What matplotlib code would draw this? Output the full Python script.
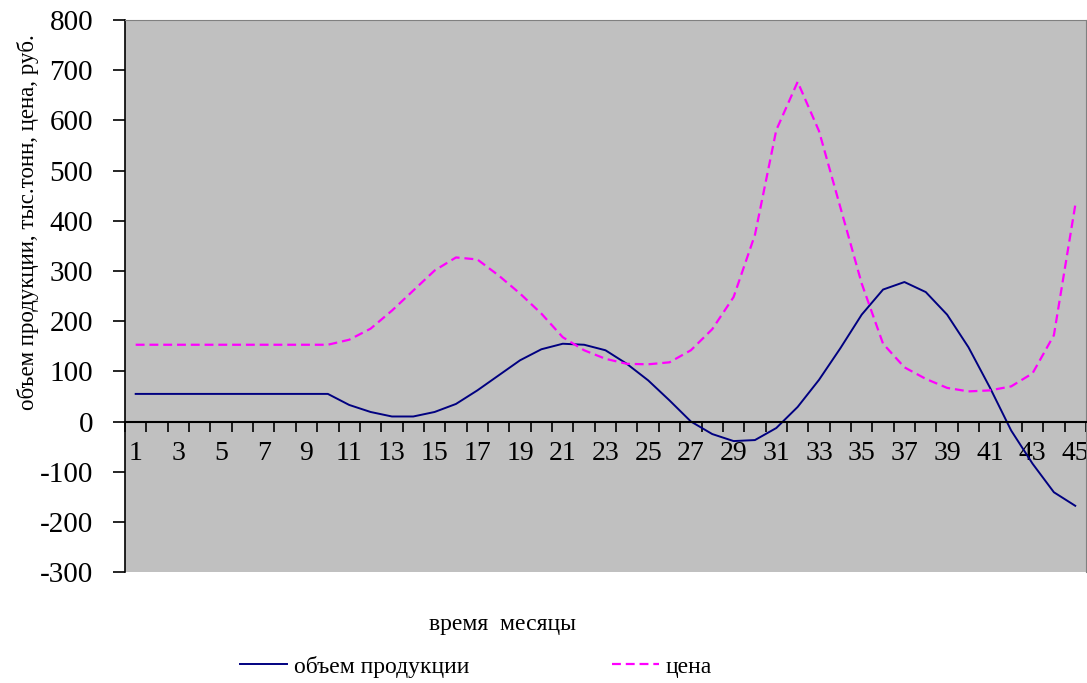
import numpy as np
import matplotlib
matplotlib.use("Agg")
import matplotlib.pyplot as plt

plt.rcParams['font.family'] = ['Liberation Serif', 'DejaVu Serif']
plt.rcParams['axes.unicode_minus'] = False

months = np.arange(1, 46)
volume = [55, 55, 55, 55, 55, 55, 55, 55, 55, 55,
          33, 19, 10, 10, 19, 35, 62, 92, 122, 144,
          155, 153, 142, 115, 82, 42, 0, -25, -39, -37,
          -13, 29, 83, 146, 213, 263, 278, 258, 213, 148,
          68, -18, -84, -141, -168]
price = [153, 153, 153, 153, 153, 153, 153, 153, 153, 153,
         163, 185, 221, 261, 301, 327, 323, 291, 255, 215,
         168, 142, 125, 115, 114, 118, 142, 184, 248, 372,
         581, 677, 579, 427, 275, 155, 108, 85, 67, 60,
         62, 70, 96, 172, 431]
tick_labels = [str(m) for m in months[::2]]

fig = plt.figure(figsize=(10.87, 6.83), dpi=100)
ax = fig.add_axes([0.115, 0.1625, 0.884, 0.808])
ax.set_facecolor('#C0C0C0')

ax.plot(months, volume, color='#000080', lw=1.4, label='объем продукции')
ax.plot(months, price, color='#FF00FF', lw=1.6, dashes=(4, 2.2), label='цена')

ax.set_xlim(0.5, 45.5)
ax.set_ylim(-300, 800)
ax.set_yticks(np.arange(-300, 801, 100))

# labels on odd months, tick marks between categories
ax.set_xticks(months[::2])
ax.set_xticklabels(tick_labels)
ax.set_xticks(np.arange(0.5, 46, 1), minor=True)
ax.tick_params(axis='x', which='major', length=0, pad=14, labelsize=20)
ax.tick_params(axis='x', which='minor', length=7, width=1.2, direction='out')
ax.tick_params(axis='y', length=9, width=1.2, pad=14, labelsize=21)

ax.spines['bottom'].set_position(('data', 0))
ax.spines['bottom'].set_linewidth(1.5)
ax.spines['left'].set_linewidth(1.2)
for s in ['top', 'right']:
    ax.spines[s].set_color('#808080')
    ax.spines[s].set_linewidth(0.8)

ax.set_ylabel('объем продукции, тыс.тонн, цена, руб.', fontsize=16.5)
ax.yaxis.set_label_coords(-0.09, 0.634)
fig.text(0.462, 0.085, 'время  месяцы', fontsize=17, ha='center', va='center')

fig.legend(loc='center', bbox_to_anchor=(0.438, 0.024), ncol=2, frameon=False,
           fontsize=17, handlelength=2.0, handletextpad=0.3, columnspacing=6.0)

fig.savefig('out.png', dpi=100)
